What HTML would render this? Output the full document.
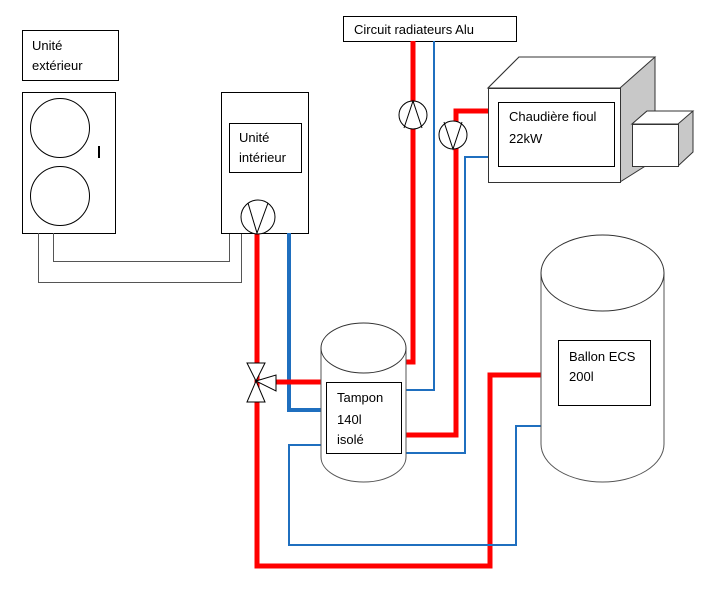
<!DOCTYPE html>
<html><head><meta charset="utf-8"><style>
body{margin:0;background:#fff}
svg{display:block}
text{font-family:"Liberation Sans",sans-serif;font-size:13px;fill:#000}
</style></head><body>
<svg width="704" height="600" viewBox="0 0 704 600" xmlns="http://www.w3.org/2000/svg">
<rect width="704" height="600" fill="#fff"/>
<rect x="22.5" y="30.5" width="96" height="50" fill="#fff" stroke="#000"/>
<text x="32" y="50">Unité</text><text x="32" y="70">extérieur</text>
<rect x="22.5" y="92.5" width="93" height="141" fill="#fff" stroke="#000"/>
<circle cx="60" cy="128" r="29.5" fill="none" stroke="#000"/>
<circle cx="60" cy="196" r="29.5" fill="none" stroke="#000"/>
<line x1="99" y1="146" x2="99" y2="158" stroke="#000" stroke-width="2"/>
<polyline points="38.5,233 38.5,282.5 241.5,282.5 241.5,233" fill="none" stroke="#555"/>
<polyline points="53.5,233 53.5,261.5 229.5,261.5 229.5,233" fill="none" stroke="#555"/>
<rect x="221.5" y="92.5" width="87" height="141" fill="#fff" stroke="#000"/>
<rect x="229.5" y="123.5" width="72" height="49" fill="#fff" stroke="#000"/>
<text x="239" y="142">Unité</text><text x="239" y="162">intérieur</text>
<rect x="343.5" y="16.5" width="173" height="25" fill="#fff" stroke="#000"/>
<text x="354" y="34">Circuit radiateurs Alu</text>
<polygon points="488,88 519,57 655,57 655,160 620,182 620,88" fill="#c8c8c8" stroke="#333"/>
<polygon points="488,88 519,57 655,57 620,88" fill="#fff" stroke="#333"/>
<rect x="488.5" y="88.5" width="132" height="94" fill="#fff" stroke="#333"/>
<rect x="498.5" y="102.5" width="116" height="64" fill="#fff" stroke="#000"/>
<text x="509" y="121">Chaudière  fioul</text><text x="509" y="143">22kW</text>
<polygon points="632,124 647,111 693,111 693,152 678,166 678,124" fill="#c8c8c8" stroke="#333"/>
<polygon points="632,124 647,111 693,111 678,124" fill="#fff" stroke="#333"/>
<rect x="632.5" y="124.5" width="46" height="42" fill="#fff" stroke="#333"/>
<g fill="none" stroke-linejoin="miter">
<polyline points="257,233 257,566 490,566 490,375 541,375" stroke="#f00" stroke-width="5"/>
<polyline points="289,233 289,410 321,410" stroke="#1f6fbf" stroke-width="4"/>
<polyline points="276,382 321,382" stroke="#f00" stroke-width="5"/>
<polyline points="413,41 413,362 406,362" stroke="#f00" stroke-width="5"/>
<polyline points="434,41 434,390 406,390" stroke="#1f6fbf" stroke-width="2"/>
<polyline points="488,111 456,111 456,435 406,435" stroke="#f00" stroke-width="5"/>
<polyline points="488,157 465,157 465,453 406,453" stroke="#1f6fbf" stroke-width="2"/>
<polyline points="321,445 289,445 289,545 516,545 516,426 541,426" stroke="#1f6fbf" stroke-width="2"/>
</g>
<g fill="#fff" stroke="#000">
<circle cx="258" cy="217" r="17"/>
<polyline points="248,203 257,233 268,203" fill="none"/>
<circle cx="413" cy="115" r="14"/>
<polyline points="404,128 413,101 422,128" fill="none"/>
<circle cx="453" cy="135" r="14"/>
<polyline points="444,122 453,149 462,122" fill="none"/>
</g>
<g fill="#fff" stroke="#000">
<polygon points="247,363 265,363 256,381"/>
<polygon points="247,402 265,402 256,381"/>
<polygon points="256,381 276,375 276,391"/>
</g>
<path d="M321,348 L321,457 A42.5,25 0 0 0 406,457 L406,348" fill="#fff" stroke="#555"/>
<ellipse cx="363.5" cy="348" rx="42.5" ry="25" fill="#fff" stroke="#333"/>
<rect x="326.5" y="382.5" width="75" height="71" fill="#fff" stroke="#000"/>
<text x="337" y="402">Tampon</text><text x="337" y="424">140l</text><text x="337" y="444">isolé</text>
<path d="M541,273 L541,444 A61.5,38 0 0 0 664,444 L664,273" fill="#fff" stroke="#555"/>
<ellipse cx="602.5" cy="273" rx="61.5" ry="38" fill="#fff" stroke="#333"/>
<rect x="558.5" y="340.5" width="92" height="65" fill="#fff" stroke="#000"/>
<text x="569" y="361">Ballon ECS</text><text x="569" y="381">200l</text>
</svg>
</body></html>
